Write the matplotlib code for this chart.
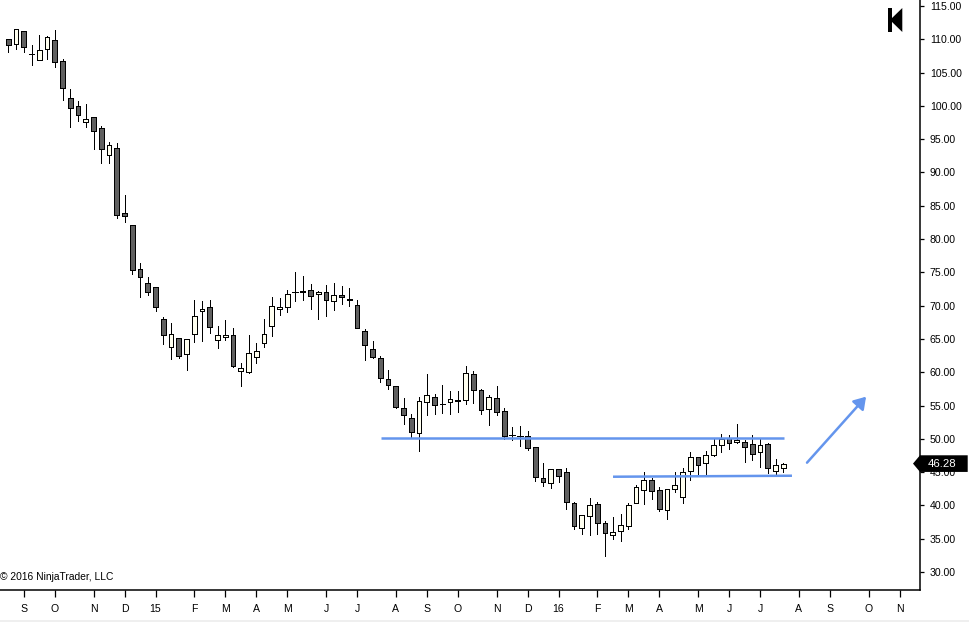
import matplotlib
matplotlib.use("Agg")
import matplotlib.pyplot as plt
from matplotlib.patches import Polygon, Rectangle, FancyArrowPatch

plt.rcParams['font.family'] = ['Liberation Sans', 'DejaVu Sans']

opens = [110.00,109.25,111.20,107.79,106.84,108.50,109.85,106.69,101.14,99.94,
         97.53,98.29,96.63,92.58,93.63,83.87,82.07,75.46,73.36,72.76,
         67.95,63.75,65.10,62.70,65.70,69.15,69.75,64.80,65.25,65.55,
         60.14,59.99,62.24,64.35,66.90,69.45,69.75,72.01,72.16,72.31,
         71.71,72.01,70.65,71.56,70.95,70.05,66.15,63.45,62.09,58.94,
         57.89,54.59,53.08,50.83,55.49,56.24,55.19,55.49,55.79,55.79,
         59.69,57.29,54.44,56.09,54.13,50.53,50.38,50.38,48.73,44.07,
         43.32,45.43,44.97,40.32,36.57,38.37,40.17,37.32,35.51,36.12,
         36.87,40.32,42.27,43.77,42.27,39.27,42.42,41.22,45.12,47.23,
         46.33,47.53,49.03,50.08,49.48,49.48,49.18,47.98,49.18,45.12,45.57]
highs = [110.00,111.50,111.20,109.10,110.60,110.45,111.35,106.99,102.49,100.69,
         100.24,98.29,96.93,94.53,94.38,86.57,82.07,76.36,74.26,72.76,
         68.25,67.35,65.10,64.95,70.80,70.65,70.80,66.90,67.80,66.60,
         61.34,65.55,64.35,67.95,71.25,71.10,72.31,75.01,74.41,73.21,
         72.16,73.06,73.36,72.91,72.61,70.80,66.45,64.65,62.39,60.29,
         57.89,56.09,53.69,56.24,59.69,56.69,58.04,57.14,57.14,60.89,
         60.14,57.44,56.54,57.89,54.59,51.73,51.88,51.13,48.73,46.33,
         45.43,45.43,45.57,40.47,38.52,41.07,40.47,37.62,38.22,38.67,
         40.32,43.02,44.97,44.07,42.72,42.42,44.97,45.57,47.98,47.23,
         48.13,49.93,50.68,50.53,52.18,49.78,50.53,49.93,49.33,46.93,46.33]
lows = [108.14,108.59,108.14,106.18,106.84,107.09,105.88,100.93,96.87,97.77,
        96.87,93.57,91.47,91.47,83.21,82.61,74.80,71.35,71.65,69.15,
        64.29,61.94,62.09,60.38,64.59,64.74,65.85,63.69,64.80,60.74,
        57.98,59.84,61.43,63.84,65.49,68.64,69.09,70.74,70.89,69.54,
        68.04,68.49,69.39,70.29,69.99,66.60,61.79,62.09,58.58,57.53,
        54.68,52.27,50.32,48.22,53.58,53.78,53.93,53.78,54.08,55.28,
        55.43,53.78,52.12,53.63,49.93,49.78,48.97,48.28,43.71,42.96,
        42.66,43.56,39.42,36.51,35.76,35.61,35.76,32.45,35.00,34.70,
        36.51,40.32,40.17,40.92,39.21,37.92,41.97,40.32,43.77,44.52,
        44.52,47.38,47.98,48.43,49.33,46.48,46.78,45.82,44.82,44.52,44.97]
closes = [109.10,111.50,108.80,107.79,108.35,110.30,106.54,102.64,99.64,98.59,
          97.98,96.18,93.48,94.08,83.57,83.42,75.31,74.26,72.01,69.75,
          65.55,65.70,62.39,64.95,68.40,69.45,66.75,65.55,65.55,60.89,
          60.59,62.85,63.15,65.70,69.90,69.75,71.71,72.01,72.01,71.41,
          72.01,70.80,71.56,71.25,70.80,66.69,64.05,62.24,59.09,58.04,
          54.83,53.53,50.98,55.64,56.54,55.04,55.19,55.94,55.64,59.84,
          57.29,54.29,56.24,53.99,50.38,50.53,50.38,48.58,44.22,43.47,
          45.43,44.37,40.47,36.87,38.52,40.02,37.32,35.81,35.96,37.02,
          40.02,42.72,43.77,42.12,39.42,42.42,43.02,44.97,47.23,46.03,
          47.53,49.03,49.93,49.33,49.78,48.73,47.68,49.03,45.57,46.03,46.28]

month_pos = [2,6,11,15,19,24,28,32,36,41,45,50,54,58,63,67,71,76,80,84,89,93,97,102,106,111,115]
month_labels = ['S','O','N','D','15','F','M','A','M','J','J','A','S','O','N','D','16','F','M','A','M','J','J','A','S','O','N']
price_ticks = [30,35,40,45,50,55,60,65,70,75,80,85,90,95,100,105,110,115]
last_price = 46.28

W, H = 970, 622
fig = plt.figure(figsize=(W/100, H/100), dpi=100, facecolor='white')
ax = fig.add_axes([0, (H-590)/H, 920/W, 590/H])
ax.set_xlim(-1.071, 117.64)
ax.set_ylim(27.3, 115.9)

DARK, LIGHT, BLUE = '#606060', '#FFFFF0', '#6495ED'
lw = 0.72
for i, (o, h, l, c) in enumerate(zip(opens, highs, lows, closes)):
    ax.vlines(i, l, h, color='black', lw=lw, antialiased=False, zorder=2)
    if o == c:
        ax.hlines(o, i-0.36, i+0.36, color='black', lw=lw, antialiased=False, zorder=3)
    else:
        ax.bar(i, abs(c-o), bottom=min(o, c), width=0.62,
               facecolor=DARK if c < o else LIGHT, edgecolor='black',
               linewidth=lw, antialiased=False, zorder=3)

# hand-drawn trend lines
ax.plot([48.09, 100.09], [50.17, 50.17], color=BLUE, lw=1.8, solid_capstyle='butt', zorder=4)
ax.plot([78.03, 101.12], [44.31, 44.46], color=BLUE, lw=1.8, solid_capstyle='butt', zorder=4)
ax.add_patch(FancyArrowPatch((103.06, 46.42), (110.68, 56.33),
                             arrowstyle='-|>,head_length=7,head_width=4.5', mutation_scale=1,
                             shrinkA=0, shrinkB=0,
                             color=BLUE, lw=1.8, zorder=4))

for s in ('left', 'top'):
    ax.spines[s].set_visible(False)
for s in ('right', 'bottom'):
    ax.spines[s].set_linewidth(1.1)

ax.yaxis.tick_right()
ax.set_yticks(price_ticks)
ax.set_yticklabels([f'{p:.2f}' for p in price_ticks])
ax.set_xticks(month_pos)
ax.set_xticklabels(month_labels)
ax.tick_params(axis='y', length=3, width=0.9, pad=4, labelsize=7.6, labelcolor='#000000')
ax.tick_params(axis='x', length=5, width=0.9, pad=5, labelsize=7.6, labelcolor='#000000')

fig.text(0.5/W, 1-577/H, '© 2016 NinjaTrader, LLC', fontsize=7.4, va='center', ha='left', color='#000000')

# last-price tag, drawn over the axis labels
tag = ax.get_yaxis_transform()
ax.add_patch(Polygon([(913/920, last_price), (920/920, last_price+1.25), (967.7/920, last_price+1.25),
                      (967.7/920, last_price-1.25), (920/920, last_price-1.25)],
                     closed=True, transform=tag, facecolor='black', edgecolor='none',
                     clip_on=False, zorder=10))
ax.text(942/920, last_price, f'{last_price:.2f}', transform=tag, color='white', fontsize=8.2,
        ha='center', va='center', zorder=11, clip_on=False)

# collapse-panel icon, top right
fig.add_artist(Rectangle((888/W, 1-32/H), 4/W, 24/H, transform=fig.transFigure, facecolor='black', edgecolor='none'))
fig.add_artist(Polygon([(890/W, 1-20/H), (902.3/W, 1-8/H), (902.3/W, 1-32/H)], closed=True,
                       transform=fig.transFigure, facecolor='black', edgecolor='none'))
# window strip at the bottom edge
fig.add_artist(Rectangle((0, 0), 1, 2/H, transform=fig.transFigure, facecolor='#EFEFEF', edgecolor='none'))

fig.savefig('out.png', dpi=100, facecolor='white')
